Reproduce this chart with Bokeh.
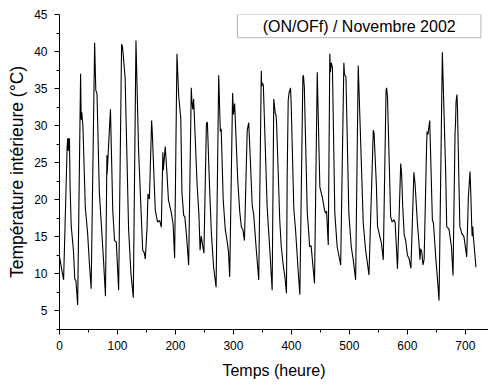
from bokeh.plotting import figure
from bokeh.models import FixedTicker, BoxAnnotation, Label, Range1d
from bokeh.embed import file_html
from bokeh.resources import INLINE

# Temps (heure) / Température intérieure (°C)
hours = [0, 7.1, 13.1, 14.1, 15.2, 16.2, 17.2, 18.2, 20.2, 24.2, 26.3, 28.3, 31.3,
         36.4, 37.4, 38.4, 40.4, 44.5, 48.5, 51.5, 54.6,
         60.6, 62.6, 64.7, 68.7, 72.7, 75.8, 79.3,
         81.8, 82.1, 87.9, 91.9, 95.0, 98.0, 102.0,
         107.1, 108.6, 113.2, 119.2, 123.3, 127.3,
         131.9, 136.4, 143.5, 146.0, 148.0,
         151.1, 152.6, 155.1, 158.9, 160.1, 165.2, 169.2, 172.8, 175.6,
         178.3, 179.1, 182.4, 185.4, 187.9, 193.0, 196.0, 198.6,
         202.6, 205.6, 209.2, 211.2, 214.2, 216.2, 219.3, 222.8,
         227.3, 228.4, 229.9, 231.4, 237.4, 240.5, 242.5, 244.5, 247.0, 249.1,
         253.4, 255.1, 258.7, 262.0, 265.7, 270.1,
         274.6, 277.4, 278.9, 282.4, 285.9, 289.0, 291.5, 293.6,
         298.6, 300.1, 302.1, 307.5, 310.9, 313.7, 316.3, 319.0,
         323.8, 326.4, 329.4, 332.4, 335.1, 339.5, 343.7,
         348.1, 348.6, 349.6, 351.6, 358.2, 361.0, 363.7, 366.8,
         369.6, 372.3, 373.3, 374.4, 379.9, 382.4, 385.5, 389.0, 391.5,
         392.7, 394.5, 396.1, 398.5, 399.6, 404.2, 407.2, 411.2, 414.6,
         419.8, 420.8, 422.3, 427.4, 430.0, 431.4, 434.0, 435.5, 439.9,
         444.6, 449.1, 453.2, 457.2, 458.7, 460.7, 463.6,
         466.3, 467.3, 468.8, 470.8, 474.9, 478.9, 485.0,
         490.5, 491.6, 494.1, 499.1, 503.2, 506.7, 510.8,
         515.3, 524.0, 528.0, 530.9, 533.8,
         541.3, 542.6, 546.6, 548.6, 552.7, 555.2, 558.5,
         563.3, 564.3, 565.8, 571.2, 573.9, 576.9, 579.0, 583.0,
         588.6, 590.1, 592.1, 594.6, 597.1, 600.2, 603.2, 606.2,
         611.3, 613.3, 617.4, 620.1, 621.8, 622.9, 624.9, 627.0, 629.0,
         633.3, 634.0, 635.5, 638.6, 643.2, 645.1, 648.9, 651.7, 654.7,
         660.4, 666.2, 667.9, 669.9, 671.9, 676.0, 678.8,
         682.3, 683.2, 684.0, 685.6, 686.6, 689.1, 690.6, 693.8, 697.7, 702.4,
         705.3, 708.1, 709.3, 711.1, 711.8, 712.8, 713.8, 718.4]
temps = [12.3, 9.2, 27.0, 28.3, 26.6, 28.3, 28.2, 22.0, 16.5, 13.0, 9.3, 9.1, 5.8,
         37.0, 30.8, 31.8, 30.0, 19.0, 15.5, 11.5, 8.0,
         41.2, 34.8, 34.3, 21.0, 16.0, 12.0, 7.0,
         26.0, 23.4, 32.2, 18.5, 14.5, 14.3, 7.8,
         41.0, 40.7, 36.5, 16.0, 10.0, 6.8,
         41.5, 26.7, 13.2, 12.9, 12.0,
         16.4, 20.8, 20.1, 30.7, 29.0, 18.6, 17.0, 17.2, 16.3,
         26.4, 24.0, 27.2, 23.5, 20.0, 18.2, 16.7, 12.1,
         39.7, 34.0, 31.0, 21.0, 17.9, 17.7, 15.0, 11.2,
         35.1, 33.3, 32.2, 33.6, 22.0, 18.0, 13.2, 15.1, 13.8, 12.8,
         30.3, 30.5, 22.0, 15.5, 11.0, 8.2,
         36.8, 29.2, 29.6, 20.0, 16.0, 14.5, 13.0, 9.6,
         34.4, 31.5, 33.0, 22.6, 18.4, 16.3, 16.0, 14.5,
         29.4, 30.4, 25.0, 19.3, 17.9, 13.2, 9.2,
         37.4, 35.3, 35.8, 35.5, 19.0, 15.5, 12.0, 7.8,
         33.6, 31.6, 31.5, 30.5, 17.3, 13.8, 11.4, 9.5, 7.4,
         22.9, 33.4, 34.5, 35.1, 33.0, 18.8, 15.9, 11.0, 7.2,
         36.6, 36.8, 35.2, 18.2, 15.5, 13.7, 13.8, 12.5, 8.7,
         37.2, 21.7, 20.4, 18.6, 18.2, 18.5, 13.9,
         39.7, 37.2, 38.5, 37.8, 18.2, 13.7, 11.2,
         38.5, 36.9, 36.6, 18.2, 13.7, 11.9, 9.2,
         38.1, 16.8, 13.2, 11.6, 9.85,
         29.4, 29.0, 22.0, 16.4, 15.0, 14.2, 11.9,
         34.8, 35.1, 33.8, 17.7, 17.0, 17.3, 16.9, 10.7,
         24.9, 23.5, 19.0, 15.3, 14.5, 12.5, 12.0, 10.75,
         23.7, 22.2, 16.8, 14.1, 11.9, 13.4, 13.0, 11.2, 12.0,
         27.6, 29.2, 28.8, 30.7, 17.3, 16.8, 12.3, 9.6, 6.4,
         39.9, 23.5, 16.4, 16.2, 16.0, 13.7, 9.8,
         29.1, 30.4, 33.2, 34.2, 32.0, 22.0, 16.4, 15.5, 15.0, 12.3,
         20.4, 23.8, 21.3, 16.4, 15.1, 16.4, 15.1, 10.9]

x_major = [0, 100, 200, 300, 400, 500, 600, 700]
x_minor = [50, 150, 250, 350, 450, 550, 650]
y_major = [5, 10, 15, 20, 25, 30, 35, 40, 45]
y_minor = [2.5, 7.5, 12.5, 17.5, 22.5, 27.5, 32.5, 37.5, 42.5]
x_title = "Temps (heure)"
y_title = "Température intérieure (°C)"
box_text = "(ON/OFf) / Novembre 2002"

FONT = "Liberation Sans"

p = figure(width=488, height=381, output_backend="svg", toolbar_location=None,
           x_range=Range1d(0, 740), y_range=Range1d(2.5, 45),
           min_border_left=59, min_border_right=0, min_border_top=14,
           min_border_bottom=51)
p.outline_line_color = None
p.xgrid.visible = False
p.ygrid.visible = False
p.background_fill_color = "white"
p.border_fill_color = "white"

p.line(hours, temps, line_color="black", line_width=1.1)

for ax, maj, mino in ((p.xaxis[0], x_major, x_minor), (p.yaxis[0], y_major, y_minor)):
    ax.ticker = FixedTicker(ticks=maj, minor_ticks=mino)
    ax.axis_line_color = "black"
    ax.axis_line_width = 1
    ax.major_tick_line_color = "black"
    ax.minor_tick_line_color = "black"
    ax.major_tick_in = 0
    ax.minor_tick_in = 0
    ax.major_tick_out = 5
    ax.minor_tick_out = 3
    ax.major_label_text_font = FONT
    ax.major_label_text_font_size = "12px"
    ax.major_label_text_color = "black"
    ax.axis_label_text_font = FONT
    ax.axis_label_text_font_style = "normal"
    ax.axis_label_text_color = "black"

p.xaxis[0].axis_label = x_title
p.xaxis[0].axis_label_text_font_size = "16px"
p.xaxis[0].major_label_standoff = 6
p.xaxis[0].axis_label_standoff = 9
p.yaxis[0].axis_label = y_title
p.yaxis[0].axis_label_text_font_size = "17.5px"
p.yaxis[0].major_label_standoff = 7
p.yaxis[0].axis_label_standoff = 4

box = BoxAnnotation(left=307, right=727, top=45, bottom=41.87,
                    fill_alpha=0, line_color="black", line_width=1)
p.add_layout(box)
lab = Label(x=517, y=43.43, text=box_text, text_align="center",
            text_baseline="middle", text_font=FONT, text_font_size="16px",
            text_color="black")
p.add_layout(lab)

open("out.html", "w").write(file_html(p, INLINE))
